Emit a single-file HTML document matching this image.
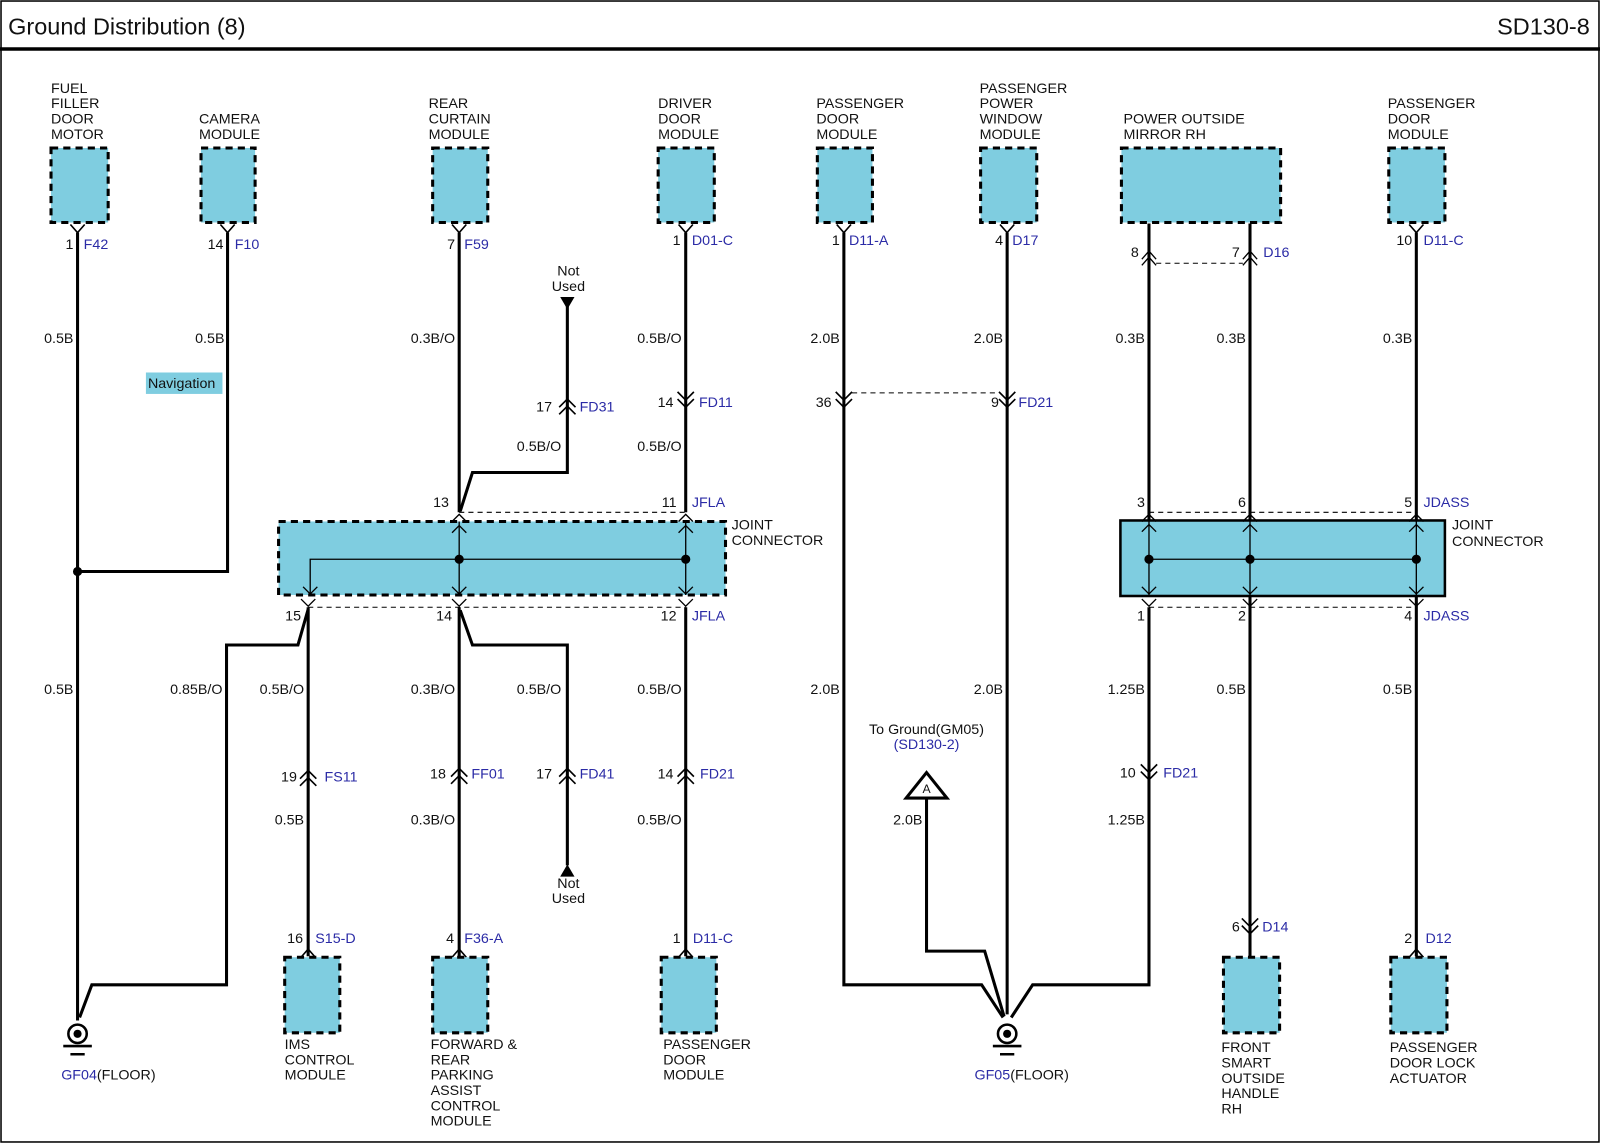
<!DOCTYPE html>
<html><head><meta charset="utf-8"><style>
html,body{margin:0;padding:0;background:#fff}
svg{display:block}
text{font-family:"Liberation Sans",Arial,sans-serif;font-size:14px;fill:#111}
.b{fill:#2b2ba6}
.r{text-anchor:end}
.c{text-anchor:middle}
.w{stroke:#000;stroke-width:3;fill:none}
.t{stroke:#000;stroke-width:1.3;fill:none}
.d{stroke:#000;stroke-width:1;fill:none;stroke-dasharray:5,4}
.m{fill:#7fcde0;stroke:#000;stroke-width:3;stroke-dasharray:7,5}
</style></head><body>
<svg width="1600" height="1143" viewBox="0 0 1568 1120" preserveAspectRatio="none" xmlns="http://www.w3.org/2000/svg">
<defs>
<path id="fem" d="M-7,-8 L0,0 L7,-8 M0,0 V3" stroke="#000" stroke-width="1.6" fill="none"/>
<path id="femu" d="M-7,8 L0,0 L7,8 M0,0 V-3" stroke="#000" stroke-width="1.6" fill="none"/>
<path id="up2" d="M-8,-1 L0,-9 L8,-1 M-8,6 L0,-2 L8,6" stroke="#000" stroke-width="1.6" fill="none"/>
<path id="dn2" d="M-8,-6 L0,2 L8,-6 M-8,1 L0,9 L8,1" stroke="#000" stroke-width="1.6" fill="none"/>
<path id="ah" d="M-7,7 L0,0 L7,7" stroke="#000" stroke-width="1.3" fill="none"/>
<path id="av" d="M-7,-7 L0,0 L7,-7" stroke="#000" stroke-width="1.3" fill="none"/>
<g id="gnd"><circle cx="0" cy="0" r="9" fill="#fff" stroke="#000" stroke-width="2.5"/><circle cx="0" cy="0" r="4" fill="#000"/><path d="M-14,12 H14 M-7,20 H7" stroke="#000" stroke-width="2.5"/></g>
</defs>
<rect x="1" y="1" width="1566" height="1118" fill="none" stroke="#000" stroke-width="1.5"/>
<line x1="0" y1="48" x2="1568" y2="48" stroke="#000" stroke-width="3.5"/>
<text x="8" y="34" style="font-size:23px">Ground Distribution (8)</text>
<text x="1558" y="34" class="r" style="font-size:23px">SD130-8</text>

<!-- top modules -->
<rect class="m" x="50" y="145" width="56" height="73"/>
<text x="50" y="91">FUEL</text><text x="50" y="106">FILLER</text><text x="50" y="121">DOOR</text><text x="50" y="136">MOTOR</text>
<rect class="m" x="197" y="145" width="53" height="73"/>
<text x="195" y="121">CAMERA</text><text x="195" y="136">MODULE</text>
<rect class="m" x="424" y="145" width="54" height="73"/>
<text x="420" y="106">REAR</text><text x="420" y="121">CURTAIN</text><text x="420" y="136">MODULE</text>
<rect class="m" x="645" y="145" width="55" height="73"/>
<text x="645" y="106">DRIVER</text><text x="645" y="121">DOOR</text><text x="645" y="136">MODULE</text>
<rect class="m" x="801" y="145" width="54" height="73"/>
<text x="800" y="106">PASSENGER</text><text x="800" y="121">DOOR</text><text x="800" y="136">MODULE</text>
<rect class="m" x="961" y="145" width="55" height="73"/>
<text x="960" y="91">PASSENGER</text><text x="960" y="106">POWER</text><text x="960" y="121">WINDOW</text><text x="960" y="136">MODULE</text>
<rect class="m" x="1099" y="145" width="156" height="73"/>
<text x="1101" y="121">POWER OUTSIDE</text><text x="1101" y="136">MIRROR RH</text>
<rect class="m" x="1361" y="145" width="55" height="73"/>
<text x="1360" y="106">PASSENGER</text><text x="1360" y="121">DOOR</text><text x="1360" y="136">MODULE</text>

<!-- top pins -->
<use href="#fem" x="76" y="228"/><text x="72" y="244" class="r">1</text><text x="82" y="244" class="b">F42</text>
<use href="#fem" x="223" y="228"/><text x="219" y="244" class="r">14</text><text x="230" y="244" class="b">F10</text>
<use href="#fem" x="450" y="228"/><text x="446" y="244" class="r">7</text><text x="455" y="244" class="b">F59</text>
<use href="#fem" x="672" y="228"/><text x="667" y="240" class="r">1</text><text x="678" y="240" class="b">D01-C</text>
<use href="#fem" x="827" y="228"/><text x="823" y="240" class="r">1</text><text x="832" y="240" class="b">D11-A</text>
<use href="#fem" x="987" y="228"/><text x="983" y="240" class="r">4</text><text x="992" y="240" class="b">D17</text>
<use href="#fem" x="1388" y="228"/><text x="1384" y="240" class="r">10</text><text x="1395" y="240" class="b">D11-C</text>
<path d="M1119,254 L1126,246 L1133,254 M1119,260 L1126,252 L1133,260" class="t" stroke-width="1.6"/>
<path d="M1218,254 L1225,246 L1232,254 M1218,260 L1225,252 L1232,260" class="t" stroke-width="1.6"/>
<line x1="1133" y1="258" x2="1218" y2="258" class="d"/>
<text x="1116" y="252" class="r">8</text><text x="1215" y="252" class="r">7</text><text x="1238" y="252" class="b">D16</text>

<!-- wires left -->
<path class="w" d="M76,228 V1000"/>
<path class="w" d="M223,228 V560 H76"/>
<circle cx="76" cy="560" r="4.5" fill="#000"/>
<path class="w" d="M302,597 L292,632 H222 V965 H90 L78,997"/>
<use href="#gnd" x="76" y="1013"/>
<text x="60" y="1058" class="b">GF04</text><text x="95" y="1058">(FLOOR)</text>

<rect x="143" y="365" width="75" height="21" fill="#7fcde0"/>
<text x="145" y="380">Navigation</text>

<path class="w" d="M450,228 V502"/>
<path class="w" d="M556,300 V463 H463 L451,501"/>
<path d="M549,291 H563 L556,303 Z" fill="#000"/>
<text x="557" y="270" class="c">Not</text><text x="557" y="285" class="c">Used</text>
<use href="#up2" x="556" y="400"/><text x="541" y="403" class="r">17</text><text x="568" y="403" class="b">FD31</text>
<path class="w" d="M672,228 V502"/>
<use href="#dn2" x="672" y="390"/><text x="660" y="399" class="r">14</text><text x="685" y="399" class="b">FD11</text>

<!-- left joint connector -->
<rect class="m" x="273" y="511" width="438" height="72"/>
<line x1="450" y1="502" x2="672" y2="502" class="d"/>
<line x1="302" y1="595" x2="672" y2="595" class="d"/>
<path class="t" d="M304,583 V548 H672 M450,511 V583 M672,511 V583"/>
<circle cx="450" cy="548" r="4.5" fill="#000"/><circle cx="672" cy="548" r="4.5" fill="#000"/>
<use href="#ah" x="450" y="504"/><use href="#ah" x="450" y="515"/><use href="#ah" x="672" y="504"/><use href="#ah" x="672" y="515"/>
<use href="#av" x="304" y="582"/><use href="#av" x="450" y="582"/><use href="#av" x="672" y="582"/>
<use href="#av" x="302" y="594"/><use href="#av" x="450" y="594"/><use href="#av" x="672" y="594"/>
<text x="440" y="497" class="r">13</text><text x="663" y="497" class="r">11</text><text x="678" y="497" class="b">JFLA</text>
<text x="295" y="608" class="r">15</text><text x="443" y="608" class="r">14</text><text x="663" y="608" class="r">12</text><text x="678" y="608" class="b">JFLA</text>
<text x="717" y="519">JOINT</text><text x="717" y="534">CONNECTOR</text>

<!-- below left joint -->
<path class="w" d="M302,595 V937"/>
<path class="w" d="M450,595 V937"/>
<path class="w" d="M451,598 L463,632 H556 V848"/>
<path d="M549,859 H563 L556,847 Z" fill="#000"/>
<text x="557" y="870" class="c">Not</text><text x="557" y="885" class="c">Used</text>
<path class="w" d="M672,595 V937"/>
<use href="#up2" x="302" y="764"/><text x="291" y="766" class="r">19</text><text x="318" y="766" class="b">FS11</text>
<use href="#up2" x="450" y="762"/><text x="437" y="763" class="r">18</text><text x="462" y="763" class="b">FF01</text>
<use href="#up2" x="556" y="762"/><text x="541" y="763" class="r">17</text><text x="568" y="763" class="b">FD41</text>
<use href="#up2" x="672" y="762"/><text x="660" y="763" class="r">14</text><text x="686" y="763" class="b">FD21</text>

<!-- bottom modules left -->
<use href="#femu" x="302" y="930"/><text x="297" y="924" class="r">16</text><text x="309" y="924" class="b">S15-D</text>
<rect class="m" x="279" y="938" width="54" height="74"/>
<text x="279" y="1028">IMS</text><text x="279" y="1043">CONTROL</text><text x="279" y="1058">MODULE</text>
<use href="#femu" x="450" y="930"/><text x="445" y="924" class="r">4</text><text x="455" y="924" class="b">F36-A</text>
<rect class="m" x="424" y="938" width="54" height="74"/>
<text x="422" y="1028">FORWARD &amp;</text><text x="422" y="1043">REAR</text><text x="422" y="1058">PARKING</text><text x="422" y="1073">ASSIST</text><text x="422" y="1088">CONTROL</text><text x="422" y="1103">MODULE</text>
<use href="#femu" x="672" y="930"/><text x="667" y="924" class="r">1</text><text x="679" y="924" class="b">D11-C</text>
<rect class="m" x="648" y="938" width="54" height="74"/>
<text x="650" y="1028">PASSENGER</text><text x="650" y="1043">DOOR</text><text x="650" y="1058">MODULE</text>

<!-- middle -->
<path class="w" d="M827,228 V965 H962 L983,997"/>
<path class="w" d="M987,228 V994"/>
<use href="#dn2" x="827" y="390"/><use href="#dn2" x="987" y="390"/>
<line x1="835" y1="385" x2="979" y2="385" class="d"/>
<text x="815" y="399" class="r">36</text><text x="979" y="399" class="r">9</text><text x="998" y="399" class="b">FD21</text>
<path class="w" d="M908,782 V932 H965 L984,996"/>
<path d="M908,757 L928,782 H888 Z" fill="#fff" stroke="#000" stroke-width="3"/>
<text x="908" y="777" class="c" style="font-size:12px">A</text>
<text x="908" y="719" class="c">To Ground(GM05)</text><text x="908" y="734" class="c b">(SD130-2)</text>
<path class="w" d="M1126,595 V965 H1012 L991,997"/>
<use href="#gnd" x="987" y="1013"/>
<text x="955" y="1058" class="b">GF05</text><text x="990" y="1058">(FLOOR)</text>

<!-- right -->
<path class="w" d="M1126,219 V583"/>
<path class="w" d="M1225,219 V937"/>
<path class="w" d="M1388,228 V937"/>
<rect x="1098" y="510" width="318" height="74" fill="#7fcde0" stroke="#000" stroke-width="2.5"/>
<line x1="1126" y1="502" x2="1388" y2="502" class="d"/>
<line x1="1126" y1="595" x2="1388" y2="595" class="d"/>
<path class="t" d="M1126,548 H1388 M1126,510 V584 M1225,510 V584 M1388,510 V584"/>
<circle cx="1126" cy="548" r="4.5" fill="#000"/><circle cx="1225" cy="548" r="4.5" fill="#000"/><circle cx="1388" cy="548" r="4.5" fill="#000"/>
<use href="#ah" x="1126" y="504"/><use href="#ah" x="1126" y="514"/><use href="#ah" x="1225" y="504"/><use href="#ah" x="1225" y="514"/><use href="#ah" x="1388" y="504"/><use href="#ah" x="1388" y="514"/>
<use href="#av" x="1126" y="582"/><use href="#av" x="1126" y="594"/><use href="#av" x="1225" y="582"/><use href="#av" x="1225" y="594"/><use href="#av" x="1388" y="582"/><use href="#av" x="1388" y="594"/>
<text x="1122" y="497" class="r">3</text><text x="1221" y="497" class="r">6</text><text x="1384" y="497" class="r">5</text><text x="1395" y="497" class="b">JDASS</text>
<text x="1122" y="608" class="r">1</text><text x="1221" y="608" class="r">2</text><text x="1384" y="608" class="r">4</text><text x="1395" y="608" class="b">JDASS</text>
<text x="1423" y="519">JOINT</text><text x="1423" y="535">CONNECTOR</text>
<use href="#dn2" x="1126" y="755"/><text x="1113" y="762" class="r">10</text><text x="1140" y="762" class="b">FD21</text>
<use href="#dn2" x="1225" y="906"/><text x="1215" y="913" class="r">6</text><text x="1237" y="913" class="b">D14</text>
<use href="#femu" x="1388" y="930"/><text x="1384" y="924" class="r">2</text><text x="1397" y="924" class="b">D12</text>
<rect class="m" x="1199" y="938" width="55" height="74"/>
<text x="1197" y="1031">FRONT</text><text x="1197" y="1046">SMART</text><text x="1197" y="1061">OUTSIDE</text><text x="1197" y="1076">HANDLE</text><text x="1197" y="1091">RH</text>
<rect class="m" x="1363" y="938" width="55" height="74"/>
<text x="1362" y="1031">PASSENGER</text><text x="1362" y="1046">DOOR LOCK</text><text x="1362" y="1061">ACTUATOR</text>

<!-- wire labels -->
<text x="72" y="336" class="r">0.5B</text><text x="220" y="336" class="r">0.5B</text><text x="446" y="336" class="r">0.3B/O</text>
<text x="668" y="336" class="r">0.5B/O</text><text x="823" y="336" class="r">2.0B</text><text x="983" y="336" class="r">2.0B</text>
<text x="1122" y="336" class="r">0.3B</text><text x="1221" y="336" class="r">0.3B</text><text x="1384" y="336" class="r">0.3B</text>
<text x="550" y="442" class="r">0.5B/O</text><text x="668" y="442" class="r">0.5B/O</text>
<text x="72" y="680" class="r">0.5B</text><text x="218" y="680" class="r">0.85B/O</text><text x="298" y="680" class="r">0.5B/O</text>
<text x="446" y="680" class="r">0.3B/O</text><text x="550" y="680" class="r">0.5B/O</text><text x="668" y="680" class="r">0.5B/O</text>
<text x="823" y="680" class="r">2.0B</text><text x="983" y="680" class="r">2.0B</text><text x="1122" y="680" class="r">1.25B</text>
<text x="1221" y="680" class="r">0.5B</text><text x="1384" y="680" class="r">0.5B</text>
<text x="298" y="808" class="r">0.5B</text><text x="446" y="808" class="r">0.3B/O</text><text x="668" y="808" class="r">0.5B/O</text>
<text x="904" y="808" class="r">2.0B</text><text x="1122" y="808" class="r">1.25B</text>
</svg>
</body></html>
